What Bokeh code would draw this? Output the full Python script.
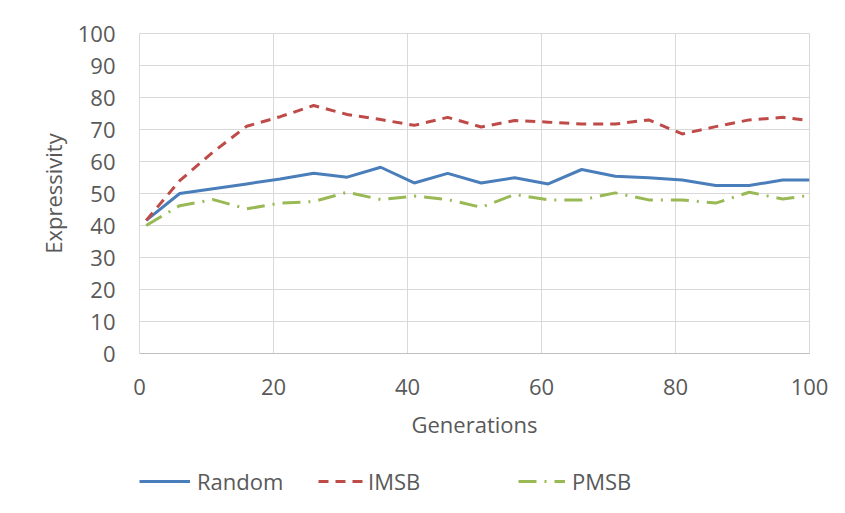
from bokeh.plotting import figure
from bokeh.models import Legend, LegendItem, SingleIntervalTicker, Range1d
from bokeh.layouts import column
from bokeh.embed import file_html
from bokeh.resources import INLINE

generations = [1, 6, 11, 16, 21, 26, 31, 36, 41, 46, 51, 56, 61, 66, 71, 76, 81, 86, 91, 96, 100]
random_vals = [41.6, 50.0, 51.5, 53.0, 54.5, 56.3, 55.1, 58.2, 53.3, 56.3, 53.3,
               54.9, 53.0, 57.5, 55.4, 54.9, 54.2, 52.5, 52.5, 54.2, 54.2]
imsb_vals = [41.6, 54.0, 63.0, 71.0, 74.0, 77.5, 74.7, 73.1, 71.3, 73.8, 70.8,
             72.8, 72.3, 71.7, 71.7, 73.0, 68.6, 70.9, 73.0, 73.8, 72.8]
pmsb_vals = [40.0, 46.2, 48.1, 45.2, 47.0, 47.5, 50.4, 48.1, 49.2, 48.1, 45.7,
             49.7, 48.0, 48.0, 50.2, 48.0, 48.0, 47.0, 50.4, 48.3, 49.4]
series_names = ["Random", "IMSB", "PMSB"]

FONT = "Open Sans"
TXT = "#595959"
FS = "22px"
COLORS = ["#4A7EBB", "#BE4B48", "#98B954"]
DASHES = ["solid", "10 7", "18 8 2 8"]

p = figure(width=845, height=450, output_backend="svg", toolbar_location=None,
           x_range=Range1d(0, 100), y_range=Range1d(0, 100),
           min_border_left=139, min_border_right=36, min_border_top=33, min_border_bottom=97)

p.outline_line_color = "#d9d9d9"
p.xgrid.grid_line_color = "#d9d9d9"
p.ygrid.grid_line_color = "#d9d9d9"

p.xaxis.ticker = SingleIntervalTicker(interval=20)
p.yaxis.ticker = SingleIntervalTicker(interval=10)

for ax in (p.xaxis[0], p.yaxis[0]):
    ax.major_tick_line_color = None
    ax.minor_tick_line_color = None
    ax.major_tick_in = 0
    ax.major_tick_out = 0
    ax.minor_tick_in = 0
    ax.minor_tick_out = 0
    ax.major_label_text_font = FONT
    ax.major_label_text_font_size = FS
    ax.major_label_text_color = TXT
    ax.axis_label_text_font = FONT
    ax.axis_label_text_font_size = FS
    ax.axis_label_text_font_style = "normal"
    ax.axis_label_text_color = TXT

p.xaxis.axis_line_color = "#bfbfbf"
p.yaxis.axis_line_color = "#d9d9d9"
p.xaxis.axis_label = "Generations"
p.yaxis.axis_label = "Expressivity"
p.xaxis.major_label_standoff = 25
p.yaxis.major_label_standoff = 24
p.xaxis.axis_label_standoff = 11
p.yaxis.axis_label_standoff = 7

all_vals = [random_vals, imsb_vals, pmsb_vals]
for vals, c, d in zip(all_vals, COLORS, DASHES):
    p.line(generations, vals, line_color=c, line_width=3, line_dash=d)

# legend strip below the chart
lf = figure(width=845, height=63, output_backend="svg", toolbar_location=None,
            x_range=Range1d(0, 100), y_range=Range1d(0, 1),
            min_border=0, min_border_left=0, min_border_right=0,
            min_border_top=0, min_border_bottom=0)
lf.axis.visible = False
lf.grid.visible = False
lf.outline_line_color = None

legend_x = [0, 179, 379]
glyph_w = [51, 47, 47]
standoffs = [7, 3, 7]
for name, vals, c, d, lx, gw, so in zip(series_names, all_vals, COLORS, DASHES,
                                         legend_x, glyph_w, standoffs):
    r = lf.line(generations, vals, line_color=c, line_width=3, line_dash=d)
    lg = Legend(items=[LegendItem(label=name, renderers=[r])], location=(lx, 17),
                padding=0, margin=0, border_line_color=None, background_fill_alpha=0,
                glyph_width=gw, glyph_height=22, label_standoff=so,
                label_text_font=FONT, label_text_font_size=FS, label_text_color=TXT)
    lf.add_layout(lg)

layout = column(p, lf, spacing=0)
open("out.html", "w").write(file_html(layout, INLINE))
